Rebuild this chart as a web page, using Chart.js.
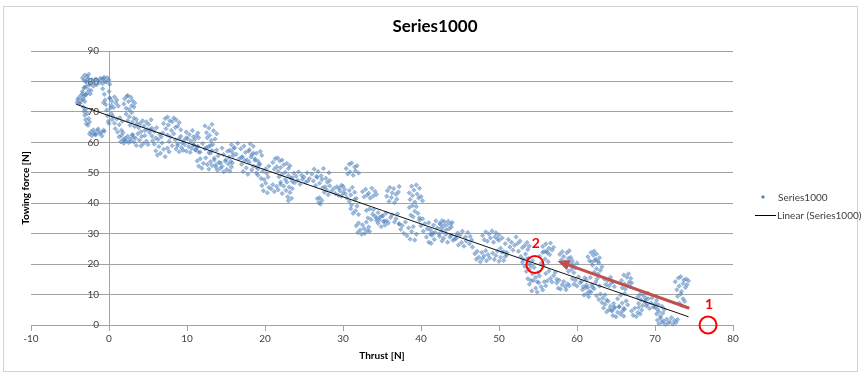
<!DOCTYPE html>
<html>
<head>
<meta charset="utf-8">
<title>Series1000</title>
<script src="https://cdn.jsdelivr.net/npm/chart.js@4.4.1/dist/chart.umd.min.js"></script>
<style>
  html, body { margin: 0; padding: 0; background: #ffffff; }
  canvas { display: block; }
</style>
</head>
<body>
<canvas id="chart" width="864" height="375"></canvas>
<script>
// Thrust [N] / towing force [N] samples, in recording order, split into runs.
const thrustA = [
  -4.1,-3.9,-3.8,-3.6,-3.5,-3.4,-3.3,-3.2,-3.1,-4.0,-3.7,-3.0,
  -3.4,-3.2,-3.0,-2.9,-2.8,-2.6,-2.5,-2.4,-2.3,-3.1,
  -3.4,-3.2,-3.1,-2.9,-2.8,-2.7,-2.6,-3.0,
  -2.4,-2.2,-2.0,-1.9,-1.7,-1.6,
  -1.4,-1.2,-1.1,-0.9,-0.8,-0.6,-0.5,-0.3,-0.2,0.0,0.1,-0.7,
  -3.3,-3.2,-3.1,-3.0,-2.9,-2.8,-2.7,-2.6,-2.5,-3.0,
  -2.5,-2.3,-2.2,-2.0,-1.9,-1.7,-1.5,-1.4,-1.2,-1.0,-0.9,-0.7,-0.6,-1.8,
  -0.8,-0.6,-0.5,-0.4,-0.3,-0.2,-0.1,0.0,0.1,0.2,0.3,0.4,-0.7,0.0,
  0.1,0.3,0.4,0.6,0.7,0.9,1.0,1.2,
  0.5,0.7,0.8,1.0,1.1,1.3,1.4,1.6,1.7,1.8,
  1.3,1.5,1.6,1.8,1.9,2.1,2.2,2.4,2.5,2.7,2.8,3.0,3.1,2.0,
  1.9,2.0,2.2,2.3,2.5,2.6,2.8,2.9,3.0,3.2,3.3,2.4,
  2.2,2.4,2.6,2.7,2.9,3.0,3.2,3.3,3.5,3.6,
  3.0,3.2,3.4,3.5,3.7,3.9,4.1,4.2,4.4,4.6,4.8,5.0,
  3.8,4.0,4.1,4.3,4.5,4.6,4.8,4.9,5.1,5.2,5.4,5.5,
  5.3,5.5,5.6,5.8,6.0,6.1,6.3,6.5,6.7,6.9,
  5.8,6.0,6.2,6.4,6.6,6.8,7.0,7.2,7.5,7.7
];
const forceA = [
  73.1,74.6,72.8,75.4,73.9,76.0,74.2,75.1,73.4,74.0,72.9,75.7,
  76.8,77.9,75.6,78.4,76.2,77.3,78.9,75.9,77.0,78.1,
  81.2,80.4,82.1,79.8,81.6,80.9,82.4,80.1,
  79.2,80.6,78.5,79.9,80.8,78.9,
  80.2,79.6,81.1,80.7,79.3,81.4,80.0,79.8,81.2,80.5,79.1,80.9,
  71.6,70.2,68.9,67.4,66.1,69.5,65.6,67.8,66.7,70.8,
  62.8,63.5,62.2,64.1,63.0,62.5,63.8,64.4,62.9,63.3,62.1,64.0,63.6,62.6,
  77.6,75.8,73.9,72.4,70.6,68.7,66.9,76.7,74.5,71.3,69.4,67.5,73.0,66.2,
  74.6,72.1,73.5,71.4,74.9,72.8,73.9,71.9,
  68.6,66.3,64.5,67.7,63.4,65.8,68.1,64.0,66.9,63.2,
  61.8,60.2,62.3,60.9,59.7,61.4,60.5,62.0,59.9,61.1,60.3,62.4,61.6,60.7,
  72.6,74.3,71.2,75.1,73.4,70.8,74.8,72.0,73.7,71.6,72.9,75.4,
  69.3,67.1,68.4,65.6,69.8,66.7,68.0,65.2,67.5,66.2,
  62.5,60.1,61.4,59.0,62.8,60.7,58.8,61.9,59.6,62.2,60.4,59.3,
  64.8,66.2,63.5,67.1,65.4,63.9,66.7,64.3,65.9,63.2,67.4,64.6,
  64.2,62.1,60.5,63.6,61.4,64.8,60.9,62.7,61.8,63.1,
  59.4,57.2,55.8,58.6,56.4,59.8,57.7,55.3,58.1,56.9
];

const thrustB = [
  7.0,7.2,7.3,7.5,7.6,7.8,8.0,8.1,8.3,8.5,8.6,8.8,9.0,9.2,
  7.5,7.7,7.9,8.1,8.3,8.5,8.8,9.0,9.2,9.4,9.6,9.9,
  8.6,8.8,9.0,9.3,9.5,9.7,9.9,10.2,10.4,10.6,10.9,11.1,11.3,11.5,
  9.9,10.1,10.3,10.5,10.7,10.8,11.0,11.2,11.4,11.5,
  10.8,11.1,11.4,11.7,12.0,12.3,12.5,12.8,13.0,13.2,
  11.3,11.5,11.7,11.9,12.1,12.4,12.6,12.8,13.0,13.2,13.5,13.7,
  12.3,12.5,12.6,12.8,12.9,13.1,13.2,13.4,13.6,13.8,
  12.8,13.0,13.3,13.5,13.8,14.0,14.3,14.5,14.7,15.0,15.2,15.4,15.6,15.8,
  13.7,13.9,14.1,14.3,14.5,14.7,14.9,15.1,15.3,15.5,15.7,15.8,
  15.5,15.7,15.9,16.1,16.3,16.5,16.7,16.9,17.1,17.3,17.5,17.7,17.9,18.1,18.3,18.5,16.0,17.0,
  17.0,17.2,17.4,17.6,17.8,18.0,18.3,18.5,18.7,18.9,19.1,19.3,
  18.0,18.2,18.5,18.7,18.9,19.1,19.4,19.6,
  18.9,19.1,19.3,19.5,19.7,19.9,20.1,20.2,20.4,20.5,
  19.6,19.8,20.1,20.3,20.5,20.8,21.0,21.2,21.5,21.7,22.0,22.2,
  21.0,21.2,21.3,21.5,21.7,21.9,22.0,22.2,22.4,22.6,22.8,23.0,23.2,21.6,
  21.8,22.0,22.2,22.4,22.6,22.8,23.0,23.1,23.3,23.5,
  22.7,22.9,23.0,23.2,23.4,23.5
];
const forceB = [
  66.2,67.8,64.5,68.3,65.7,67.1,63.9,66.8,68.0,64.9,67.4,65.3,66.5,64.1,
  62.4,60.3,61.7,58.9,62.8,60.8,59.5,61.2,62.0,59.8,60.6,61.5,
  57.8,58.9,56.9,58.2,57.4,59.3,57.1,58.6,56.7,58.0,59.1,57.5,58.4,56.8,
  63.4,61.2,62.6,60.4,63.9,61.8,60.9,62.2,63.1,61.5,
  59.2,57.5,58.7,56.8,59.6,57.9,58.3,56.6,59.0,57.3,
  53.9,52.2,54.6,51.5,53.1,54.9,52.7,51.2,53.6,52.4,54.2,51.8,
  65.4,63.2,61.5,64.7,62.3,60.6,65.9,63.8,61.1,62.8,
  58.6,56.4,59.3,54.8,57.5,55.6,53.2,58.1,56.0,54.3,57.1,55.2,53.8,56.7,
  52.6,50.8,53.4,51.5,52.1,50.3,53.8,51.1,52.9,50.6,51.9,53.2,
  57.4,59.2,55.6,58.3,56.1,59.7,54.6,57.9,55.3,58.8,56.7,54.2,57.1,59.5,55.9,56.4,58.0,55.0,
  52.8,50.4,54.1,51.6,49.5,53.5,50.9,52.2,54.6,49.9,51.3,53.0,
  57.6,55.2,58.7,54.1,56.4,53.8,57.0,55.7,
  51.9,49.2,52.6,48.1,50.5,47.8,51.3,49.8,48.6,52.2,
  45.8,44.1,46.6,43.4,45.2,44.7,46.1,43.8,45.5,44.4,46.9,43.2,
  53.4,51.2,54.6,52.0,50.5,53.9,51.7,54.2,52.6,50.2,53.1,51.4,52.3,54.9,
  48.7,46.2,49.5,45.6,47.8,46.9,49.1,45.3,48.2,47.1,
  44.2,42.1,40.8,43.5,41.6,44.8
];

const thrustC = [
  23.5,23.7,23.8,24.0,24.2,24.3,24.5,24.7,24.8,25.0,25.2,25.4,25.5,25.7,
  26.0,26.2,26.3,26.5,26.7,26.8,27.0,27.2,27.3,27.5,27.7,27.8,28.0,28.2,28.3,26.6,
  26.7,26.9,27.0,27.1,27.3,
  27.4,27.6,27.9,28.1,28.3,28.5,28.8,29.0,29.2,29.4,29.6,29.8,30.0,30.2,
  29.5,29.8,30.0,30.3,30.5,30.8,31.0,31.2,31.5,31.7,
  30.4,30.6,30.8,30.9,31.1,31.3,31.5,31.6,31.8,32.0,
  30.8,31.0,31.1,31.3,31.5,31.6,31.8,32.0,
  31.7,31.9,32.0,32.2,32.4,32.5,32.7,32.8,33.0,33.1,33.3,33.4,
  32.5,32.7,32.9,33.1,33.3,33.5,33.7,33.9,34.1,34.3,
  33.0,33.2,33.4,33.6,33.8,33.9,34.1,34.3,34.5,34.7,
  34.3,34.5,34.7,34.9,35.1,35.2,35.4,35.6,
  35.6,35.7,35.9,36.0,36.2,36.3,36.5,36.6,36.8,36.9,37.1,37.2,
  35.0,35.3,35.5,35.8,36.1,36.3,36.6,36.8,37.0,37.2,
  37.2,37.4,37.6,37.8,38.0,38.2,38.4,38.6,38.8,39.0,39.2,39.4,
  38.5,38.6,38.8,38.9,39.1,39.2,39.4,39.5,39.7,39.8,40.0,40.2,
  38.5,38.7,38.9,39.0,39.2,39.4,39.6,39.8,
  39.8,40.0,40.2,40.3,40.5,40.7,40.8,41.0,41.2,41.3,41.5,41.7
];
const forceC = [
  48.4,49.9,46.7,48.9,47.5,50.3,46.2,49.2,47.9,48.6,46.9,50.0,47.3,48.1,
  49.6,47.3,51.2,45.8,48.5,50.4,46.6,49.0,47.8,51.4,45.4,48.2,46.9,50.0,47.5,48.8,
  41.5,40.2,41.8,39.7,40.9,
  45.1,43.6,44.4,42.8,45.7,43.9,44.8,43.2,45.4,42.6,44.1,45.9,43.4,44.6,
  44.9,42.3,45.6,43.1,41.8,44.2,42.7,45.2,43.6,41.6,
  51.4,49.6,52.8,50.3,53.2,49.2,51.9,50.7,52.3,49.9,
  40.6,38.2,39.4,36.7,41.2,37.5,39.0,36.3,
  32.6,30.4,33.5,31.2,29.8,32.9,31.7,30.1,33.8,31.0,32.2,30.7,
  43.8,42.1,44.6,42.7,43.3,41.7,44.9,42.4,43.9,42.9,
  37.6,35.2,38.1,34.6,36.4,37.9,35.7,34.3,36.9,35.4,
  35.1,33.4,34.6,32.3,35.8,33.9,32.8,34.2,
  42.3,44.1,40.6,45.2,41.9,43.4,44.8,40.2,42.9,41.3,43.7,45.5,
  35.9,34.2,36.7,33.5,35.3,36.2,33.8,34.9,36.5,33.2,
  33.2,31.4,32.6,30.1,33.8,29.3,31.9,28.2,30.7,32.3,27.9,29.8,
  43.4,41.2,45.6,42.5,44.3,40.4,46.0,43.0,41.7,44.9,42.2,40.8,
  38.6,36.1,39.2,35.5,37.4,38.9,36.7,35.2,
  34.4,32.6,34.9,30.8,33.3,28.9,31.6,27.2,29.8,26.8,30.2,28.1
];

const thrustD = [
  41.0,41.2,41.4,41.6,41.8,41.9,42.1,42.3,42.5,42.7,
  42.4,42.6,42.7,42.9,43.0,43.2,43.3,43.5,43.6,43.8,43.9,44.0,
  42.4,42.7,42.9,43.2,43.4,43.7,43.9,44.1,44.3,44.5,
  44.5,44.7,44.8,45.0,45.2,45.3,45.5,45.7,45.8,46.0,46.2,46.3,46.5,46.6,
  46.9,47.1,47.2,47.4,47.6,47.8,47.9,48.1,48.3,48.4,48.6,48.8,
  47.9,48.1,48.3,48.5,48.7,48.9,49.1,49.3,49.5,49.6,49.8,50.0,
  49.2,49.4,49.6,49.8,50.0,50.2,50.4,50.6,50.8,51.0,
  50.0,50.2,50.4,50.6,50.8,51.0,51.2,51.4,51.6,51.8,52.0,52.2,
  52.4,52.5,52.7,52.8,53.0,53.1,53.3,53.4,53.6,53.7,53.8,53.9,
  53.0,53.3,53.6,53.8,54.1,54.3,
  53.5,53.7,53.9,54.1,54.3,54.5,54.7,54.9,55.0,55.2,
  53.9,54.2,54.4,54.7,54.9,55.1,55.4,55.6,55.8,56.0,
  55.2,55.4,55.6,55.7,55.9,56.1,56.3,56.5,
  55.6,55.8,56.0,56.2,56.4,56.6,56.8,57.0,
  56.0,56.2,56.4,56.6,56.8,57.0,57.2,57.4,
  57.4,57.6,57.7,57.9,58.1,58.3,58.5,58.6,58.8,59.0,
  57.8,58.0,58.1,58.3,58.5,58.7,58.9,59.0,59.2,59.4,
  58.7,58.9,59.1,59.3,59.5,59.6,59.8,60.0
];
const forceD = [
  33.6,31.2,29.5,32.8,30.4,34.2,31.9,29.9,33.1,30.7,
  33.4,31.8,34.3,32.5,33.9,31.3,32.9,34.1,31.6,33.2,32.2,33.7,
  29.1,27.6,28.5,29.8,27.2,28.9,29.5,27.8,28.2,29.3,
  28.4,30.2,26.3,29.5,27.1,30.8,25.9,28.9,27.6,30.4,26.7,29.1,27.9,25.6,
  23.4,21.6,24.2,22.3,20.8,23.8,21.9,22.7,24.4,21.1,23.1,22.0,
  29.4,28.0,30.6,27.5,29.9,28.6,30.9,27.2,29.0,30.3,28.3,29.6,
  23.6,21.5,22.8,24.3,20.9,22.2,23.9,21.2,22.5,23.1,
  27.8,25.2,28.6,24.1,26.7,23.8,28.1,25.6,27.2,24.6,26.2,28.9,
  26.8,24.2,27.6,22.5,25.4,21.6,26.1,23.3,27.1,24.8,21.9,25.9,
  20.6,19.3,21.7,20.1,19.6,21.2,
  17.6,15.2,18.4,14.6,16.8,18.9,15.7,14.2,17.2,16.1,
  13.4,11.2,14.6,12.1,10.8,13.9,12.6,11.5,14.2,12.9,
  22.6,20.2,23.8,19.5,21.7,24.2,20.8,23.1,
  25.8,24.1,26.6,23.7,25.2,26.9,24.6,25.5,
  16.9,14.5,17.7,15.3,14.1,16.2,17.3,15.0,
  13.8,12.1,14.7,11.8,13.2,14.3,12.6,11.6,13.5,12.9,
  23.2,21.4,24.1,22.5,20.8,23.7,21.9,24.4,22.2,21.1,
  19.4,17.6,20.2,18.3,19.8,17.2,18.8,20.4
];

const thrustE = [
  59.4,59.6,59.8,60.0,60.2,60.4,60.6,60.8,61.0,61.2,
  60.7,60.9,61.1,61.3,61.5,61.6,61.8,62.0,
  61.2,61.4,61.7,61.9,62.2,62.4,62.6,62.9,
  61.4,61.6,61.8,61.9,62.1,62.2,62.4,62.5,62.7,62.9,
  62.0,62.2,62.3,62.5,62.7,62.8,63.0,63.2,
  62.5,62.8,63.0,63.3,63.6,63.8,
  63.2,63.4,63.6,63.8,64.0,64.1,64.3,64.5,64.7,64.8,
  63.5,63.7,63.9,64.1,64.3,64.4,64.6,64.8,
  64.4,64.6,64.8,65.0,65.2,65.4,65.6,65.8,66.0,66.1,
  65.2,65.4,65.6,65.8,66.0,66.1,66.3,66.5,
  65.7,65.8,66.0,66.1,66.2,66.4,66.5,66.6,66.7,66.8,66.9,67.0,
  67.0,67.2,67.4,67.6,67.8,67.9,68.1,68.3,
  67.8,67.9,68.1,68.2,68.4,68.5,68.7,68.8,69.0,69.1,
  68.7,68.9,69.1,69.3,69.5,69.6,69.8,70.0,70.2,70.3,
  70.0,70.2,70.4,70.5,70.7,70.9,71.0,71.2,
  70.3,70.5,70.7,70.9,71.1,71.3,71.5,71.7,71.9,72.1,72.3,72.5,72.7,72.9,
  72.9,73.1,73.3,73.4,73.6,73.8,
  72.6,72.8,73.0,73.1,73.3,73.4,73.6,73.7,73.9,74.0,74.1,74.3
];
const forceE = [
  15.2,13.4,14.7,12.8,15.8,13.9,14.3,12.6,15.5,13.1,
  11.6,9.8,12.2,10.4,9.3,11.1,10.8,12.4,
  14.8,12.4,15.6,13.2,11.9,14.1,15.2,12.8,
  22.4,21.1,23.8,20.7,22.9,24.3,21.6,23.3,20.9,22.1,
  19.6,17.3,21.2,18.5,16.8,20.4,18.0,19.1,
  9.6,8.4,10.2,8.9,9.9,8.2,
  7.4,5.6,6.8,4.3,7.8,5.1,6.2,4.7,7.1,5.9,
  15.1,13.3,14.6,12.8,15.7,13.8,14.2,12.6,
  4.8,3.1,5.6,2.7,4.2,5.9,3.5,4.5,2.9,5.2,
  8.6,6.1,9.8,7.2,5.4,10.3,7.9,6.6,
  14.6,12.2,16.4,13.5,11.8,15.7,13.0,16.8,14.1,12.6,15.3,13.8,
  4.6,3.2,5.5,2.8,4.1,5.8,3.6,4.9,
  9.2,7.1,10.1,8.3,6.4,9.7,7.6,8.8,6.8,10.4,
  7.8,6.2,8.6,5.4,7.2,8.9,5.9,6.8,8.1,5.2,
  5.8,3.6,6.7,4.4,2.9,6.1,3.9,5.1,
  1.6,0.4,2.2,0.9,1.3,0.2,1.9,0.6,1.1,2.4,0.3,1.5,0.8,1.8,
  9.4,7.2,10.2,6.5,8.6,7.8,
  14.2,11.6,15.4,12.8,15.9,11.0,13.6,14.8,12.3,15.1,13.2,14.5
];

const thrust = [...thrustA, ...thrustB, ...thrustC, ...thrustD, ...thrustE];
const towingForce = [...forceA, ...forceB, ...forceC, ...forceD, ...forceE];

// Linear trend line end points (thrust, force)
const trendThrust = [-4.2, 74.3];
const trendForce = [72.5, 2.7];

// Marked operating points and the arrow between them
const markThrust = [76.8, 54.6];
const markForce = [0, 19.9];
const markLabels = ['1', '2'];
const arrowThrust = [74.4, 57.5];
const arrowForce = [5.5, 21.0];

const seriesName = 'Series1000';
const trendName = 'Linear (Series1000)';
const xTitle = 'Thrust [N]';
const yTitle = 'Towing force [N]';

const FONT = 'Lato, "Open Sans", "Liberation Sans", sans-serif';
const GRID = '#a3a3a3';
const TEXT = '#404040';
const BLUE = '#4f81bd';

const samples = thrust.map((x, i) => ({ x: x, y: towingForce[i] }));
const trend = trendThrust.map((x, i) => ({ x: x, y: trendForce[i] }));

const decorations = {
  id: 'decorations',
  beforeDraw(chart) {
    const ctx = chart.ctx;
    ctx.save();
    ctx.fillStyle = '#ffffff';
    ctx.fillRect(0, 0, chart.width, chart.height);
    ctx.strokeStyle = '#d4d4d4';
    ctx.lineWidth = 1;
    ctx.strokeRect(3.5, 6.5, 854, 365);
    ctx.restore();
  },
  afterDatasetsDraw(chart) {
    const ctx = chart.ctx;
    const xs = chart.scales.x, ys = chart.scales.y;
    ctx.save();
    // arrow
    const x0 = xs.getPixelForValue(arrowThrust[0]), y0 = ys.getPixelForValue(arrowForce[0]);
    const x1 = xs.getPixelForValue(arrowThrust[1]), y1 = ys.getPixelForValue(arrowForce[1]);
    const ang = Math.atan2(y1 - y0, x1 - x0);
    const headLen = 12, headHalf = 5.5;
    const bx = x1 - headLen * Math.cos(ang), by = y1 - headLen * Math.sin(ang);
    ctx.strokeStyle = '#c0504d';
    ctx.fillStyle = '#c0504d';
    ctx.lineWidth = 3;
    ctx.lineCap = 'butt';
    ctx.beginPath();
    ctx.moveTo(x0, y0);
    ctx.lineTo(bx, by);
    ctx.stroke();
    ctx.beginPath();
    ctx.moveTo(x1, y1);
    ctx.lineTo(bx + headHalf * Math.sin(ang), by - headHalf * Math.cos(ang));
    ctx.lineTo(bx - headHalf * Math.sin(ang), by + headHalf * Math.cos(ang));
    ctx.closePath();
    ctx.fill();
    // circles and numbers
    ctx.strokeStyle = '#ff0000';
    ctx.fillStyle = '#ff0000';
    ctx.lineWidth = 2;
    ctx.font = 'bold 14px ' + FONT;
    ctx.textAlign = 'center';
    ctx.textBaseline = 'middle';
    markThrust.forEach((t, i) => {
      const px = xs.getPixelForValue(t), py = ys.getPixelForValue(markForce[i]);
      ctx.beginPath();
      ctx.arc(px, py, 8.5, 0, Math.PI * 2);
      ctx.stroke();
      ctx.fillText(markLabels[i], px + 1, py - 21);
    });
    ctx.restore();
  },
  afterDraw(chart) {
    const ctx = chart.ctx;
    const area = chart.chartArea;
    ctx.save();
    ctx.fillStyle = '#000000';
    ctx.textAlign = 'center';
    ctx.textBaseline = 'middle';
    ctx.font = 'bold 17px ' + FONT;
    ctx.fillText(seriesName, 435, 27);
    ctx.font = 'bold 10px ' + FONT;
    ctx.fillText(xTitle, (area.left + area.right) / 2, 356);
    ctx.save();
    ctx.translate(26, (area.top + area.bottom) / 2);
    ctx.rotate(-Math.PI / 2);
    ctx.fillText(yTitle, 0, 0);
    ctx.restore();
    // legend
    ctx.fillStyle = BLUE;
    ctx.beginPath();
    ctx.moveTo(763, 195);
    ctx.lineTo(765, 197);
    ctx.lineTo(763, 199);
    ctx.lineTo(761, 197);
    ctx.closePath();
    ctx.fill();
    ctx.strokeStyle = '#000000';
    ctx.lineWidth = 1;
    ctx.beginPath();
    ctx.moveTo(755, 215.5);
    ctx.lineTo(776, 215.5);
    ctx.stroke();
    ctx.fillStyle = TEXT;
    ctx.textAlign = 'left';
    ctx.font = '10px ' + FONT;
    ctx.fillText(seriesName, 778, 198);
    ctx.fillText(trendName, 777, 216);
    ctx.restore();
  }
};

new Chart(document.getElementById('chart'), {
  type: 'scatter',
  data: {
    datasets: [
      {
        type: 'line',
        label: trendName,
        data: trend,
        borderColor: '#111111',
        borderWidth: 1,
        pointRadius: 0,
        fill: false,
        order: 0
      },
      {
        label: seriesName,
        data: samples,
        pointStyle: 'rectRot',
        pointRadius: 2.2,
        backgroundColor: 'rgba(79,129,189,0.55)',
        borderColor: 'rgba(79,129,189,0.75)',
        borderWidth: 0.5,
        clip: false,
        order: 1
      }
    ]
  },
  options: {
    responsive: false,
    animation: false,
    devicePixelRatio: 1,
    layout: { padding: { left: 31, right: 131, top: 51, bottom: 50 } },
    plugins: {
      legend: { display: false },
      title: { display: false },
      tooltip: { enabled: false }
    },
    scales: {
      x: {
        type: 'linear',
        position: { y: 0 },
        min: -10,
        max: 80,
        ticks: { stepSize: 10, color: TEXT, font: { family: FONT, size: 10 }, padding: 3 },
        grid: { drawOnChartArea: false, drawTicks: true, tickLength: 5, color: GRID },
        border: { display: true, color: GRID }
      },
      y: {
        type: 'linear',
        position: { x: 0 },
        min: 0,
        max: 90,
        ticks: {
          stepSize: 10, color: TEXT, font: { family: FONT, size: 10 }, padding: 0,
          callback: (v) => v + '\u2002\u2002'
        },
        grid: { color: GRID, drawTicks: false },
        border: { display: true, color: GRID }
      }
    }
  },
  plugins: [decorations]
});
</script>
</body>
</html>
